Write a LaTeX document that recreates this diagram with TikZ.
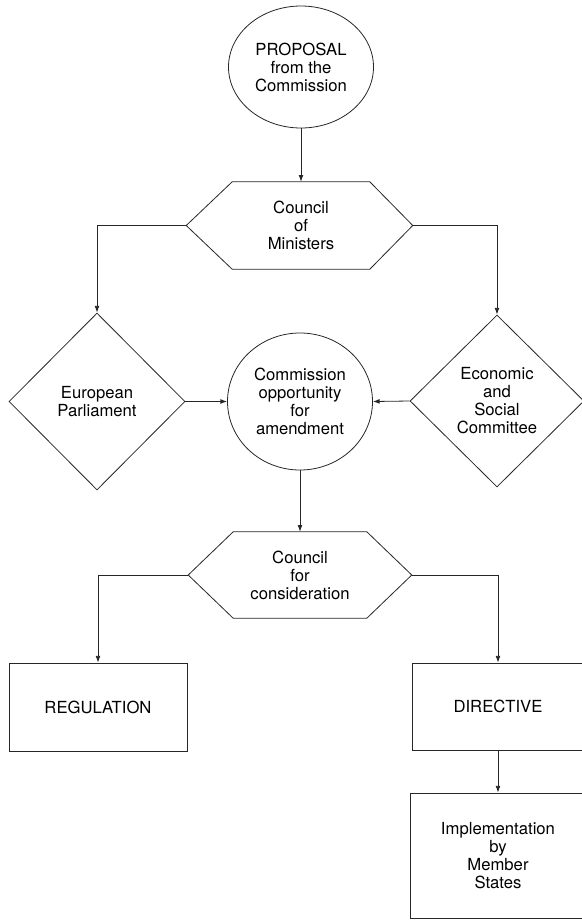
\documentclass[tikz,border=0pt]{standalone}
\usepackage{fontspec}
\setmainfont{TeX Gyre Heros}
\usepackage{tikz}
\usetikzlibrary{shapes.geometric,arrows.meta}

\tikzset{
  flowline/.style={line width=0.6pt, draw=black!85},
  flowarrow/.style={flowline, -{Latex[length=5pt,width=3.6pt]}},
  roundbox/.style={ellipse, draw, flowline, inner sep=0pt, align=center},
  choicebox/.style={diamond, draw, flowline, inner sep=0pt, align=center},
  councilbox/.style={rectangle, inner sep=0pt, align=center},
  resultbox/.style={rectangle, draw, flowline, inner sep=0pt, align=center},
}

\begin{document}
\begin{tikzpicture}[x=0.75pt,y=0.75pt,yscale=-1,xscale=1,font=\fontsize{12.5}{13.5}\selectfont]
        \useasboundingbox (0,0) rectangle (582,922);

        %Shape: Ellipse
        \node [roundbox, minimum width=108.75pt, minimum height=91.5pt] (proposal) at (301,67) {PROPOSAL\\from the\\Commission};

        %Shape: Polygon (hexagon)
        \node [councilbox, minimum width=102.75pt, minimum height=65.25pt] (ministers) at (301,225.5) {Council\\of\\Ministers};
        \coordinate (ministersW) at ([xshift=-34.5pt]ministers.west);
        \coordinate (ministersE) at ([xshift=32.25pt]ministers.east);
        \draw [flowline] (ministers.north west) -- (ministers.north east) -- (ministersE) -- (ministers.south east) -- (ministers.south west) -- (ministersW) -- cycle ;

        %Shape: Diamond
        \node [choicebox, minimum width=132pt, minimum height=132.75pt] (parliament) at (97,401.5) {European\\Parliament};
        %Shape: Diamond
        \node [choicebox, minimum width=130.5pt, minimum height=129pt] (committee) at (497,401) {Economic\\and\\Social\\Committee};

        %Shape: Ellipse
        \node [roundbox, minimum width=108.75pt, minimum height=102.75pt] (amend) at (300,401.5) {Commission\\opportunity\\for\\amendment};

        %Shape: Polygon (hexagon)
        \node [councilbox, minimum width=99.75pt, minimum height=64.5pt] (consider) at (300,575) {Council\\for\\consideration};
        \coordinate (considerW) at ([xshift=-33.75pt]consider.west);
        \coordinate (considerE) at ([xshift=33.75pt]consider.east);
        \draw [flowline] (consider.north west) -- (consider.north east) -- (considerE) -- (consider.south east) -- (consider.south west) -- (considerW) -- cycle ;

        %Shape: Rectangle
        \node [resultbox, minimum width=133.5pt, minimum height=66pt] (regulation) at (98,707) {REGULATION};
        %Shape: Rectangle
        \node [resultbox, minimum width=129pt, minimum height=65.25pt] (directive) at (498,706.5) {DIRECTIVE};
        %Shape: Rectangle
        \node [resultbox, minimum width=132pt, minimum height=93.75pt] (implement) at (498,855.5) {Implementation\\by\\Member\\States};

        %Straight Lines
        \draw [flowarrow] (proposal.south) -- (ministers.north) ;
        \draw [flowarrow] (ministersW) -| (parliament.north) ;
        \draw [flowarrow] (ministersE) -| (committee.north) ;
        \draw [flowarrow] (parliament.east) -- (amend.west) ;
        \draw [flowarrow] (committee.west) -- (amend.east) ;
        \draw [flowarrow] (amend.south) -- (consider.north) ;
        \draw [flowarrow] (considerW) -| (regulation.north) ;
        \draw [flowarrow] (considerE) -| (directive.north) ;
        \draw [flowarrow] (directive.south) -- (implement.north) ;

\end{tikzpicture}
\end{document}
